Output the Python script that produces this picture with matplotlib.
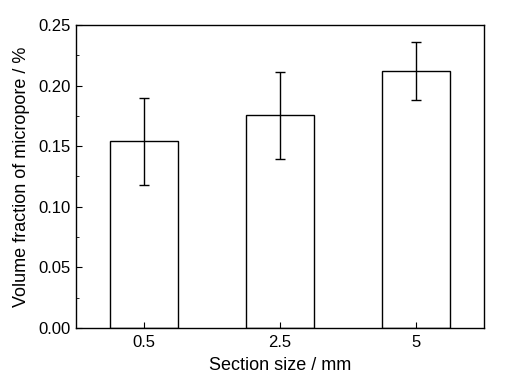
import matplotlib
matplotlib.use("Agg")
import matplotlib.pyplot as plt
from matplotlib.ticker import MultipleLocator

categories = ["0.5", "2.5", "5"]
values = [0.154, 0.1755, 0.212]
errors = [0.036, 0.036, 0.024]

plt.rcParams['font.family'] = ['Liberation Sans', 'DejaVu Sans']
fig = plt.figure(figsize=(5.11, 3.86), dpi=100)
ax = fig.add_axes([76/511, 1-328/386, (484-76)/511, (328-25)/386])
x = range(len(categories))
ax.bar(x, values, width=0.5, color='white', edgecolor='black', linewidth=1.0,
       yerr=errors, error_kw=dict(ecolor='black', elinewidth=1.0, capsize=3.5, capthick=1.0))
ax.set_xlim(-0.5, 2.5)
ax.set_ylim(0, 0.25)
ax.set_xticks(list(x))
ax.set_xticklabels(categories)
ax.yaxis.set_major_locator(MultipleLocator(0.05))
ax.yaxis.set_minor_locator(MultipleLocator(0.025))
ax.yaxis.set_major_formatter(matplotlib.ticker.FormatStrFormatter('%.2f'))
ax.tick_params(direction='in', which='both', labelsize=12, top=False, right=False)
ax.tick_params(which='major', length=4)
ax.tick_params(axis='x', which='major', pad=5)
ax.tick_params(axis='y', which='major', pad=4)
ax.tick_params(which='minor', length=2.5)
for s in ax.spines.values():
    s.set_linewidth(1.0)
ax.set_xlabel("Section size / mm", fontsize=13, labelpad=5)
ax.set_ylabel("Volume fraction of micropore / %", fontsize=13, labelpad=6)
fig.savefig("out.png", dpi=100)
